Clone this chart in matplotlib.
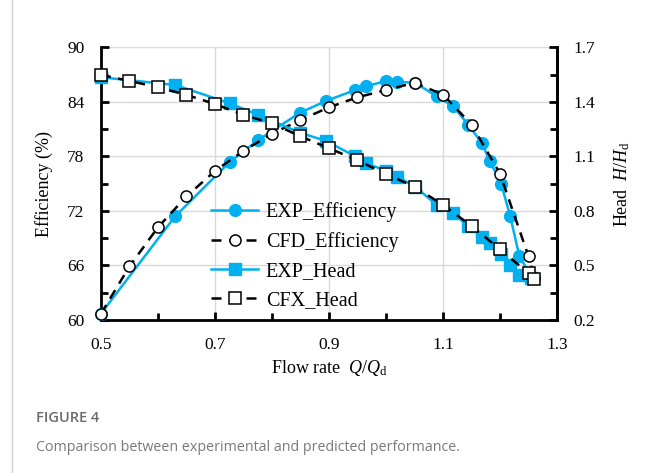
import matplotlib
matplotlib.use("Agg")
import matplotlib.pyplot as plt
from matplotlib.lines import Line2D

plt.rcParams['font.family'] = ['Liberation Serif', 'DejaVu Serif']
plt.rcParams['mathtext.fontset'] = 'custom'
plt.rcParams['mathtext.rm'] = 'Liberation Serif'
plt.rcParams['mathtext.it'] = 'Liberation Serif:italic'

# Efficiency (%) versus flow rate Q/Qd
exp_eff_q = [0.50, 0.63, 0.726, 0.776, 0.849, 0.895, 0.946, 0.965, 1.00, 1.02, 1.051,
             1.089, 1.118, 1.144, 1.168, 1.182, 1.202, 1.218, 1.234, 1.255]
exp_eff = [60.7, 71.4, 77.4, 79.8, 82.8, 84.1, 85.3, 85.7, 86.3, 86.2, 86.1,
           84.6, 83.5, 81.5, 79.5, 77.5, 75.0, 71.4, 67.0, 64.8]
cfd_eff_q = [0.50, 0.55, 0.60, 0.65, 0.70, 0.75, 0.80, 0.85, 0.90, 0.95, 1.00,
             1.05, 1.10, 1.15, 1.20, 1.25, 1.26]
cfd_eff = [60.7, 65.9, 70.2, 73.6, 76.4, 78.6, 80.5, 82.0, 83.4, 84.5, 85.3,
           86.1, 84.8, 81.5, 76.1, 67.0, 64.6]

# Head H/Hd versus flow rate Q/Qd
exp_head_q = [0.50, 0.63, 0.726, 0.776, 0.849, 0.895, 0.946, 0.965, 1.00, 1.02, 1.051,
              1.089, 1.118, 1.144, 1.168, 1.182, 1.202, 1.218, 1.234, 1.255]
exp_head = [1.535, 1.493, 1.392, 1.328, 1.230, 1.185, 1.100, 1.062, 1.021, 0.988, 0.933,
            0.833, 0.787, 0.717, 0.658, 0.622, 0.563, 0.503, 0.448, 0.430]
cfx_head_q = [0.50, 0.55, 0.60, 0.65, 0.70, 0.75, 0.80, 0.85, 0.90, 0.95, 1.00,
              1.05, 1.10, 1.15, 1.20, 1.25, 1.26]
cfx_head = [1.548, 1.515, 1.480, 1.438, 1.388, 1.328, 1.282, 1.210, 1.145, 1.078, 1.003,
            0.933, 0.833, 0.717, 0.589, 0.457, 0.424]

x_ticks = [0.5, 0.7, 0.9, 1.1, 1.3]
eff_ticks = [60, 66, 72, 78, 84, 90]
head_ticks = [0.2, 0.5, 0.8, 1.1, 1.4, 1.7]

cyan = '#00B0F0'

fig = plt.figure(figsize=(6.52, 4.73), dpi=100)
ax = fig.add_axes([0.1549, 0.3235, 0.6994, 0.5765])
ax2 = ax.twinx()

ax.set_xlim(0.5, 1.3)
ax.set_ylim(60, 90)
ax2.set_ylim(0.2, 1.7)

ax.set_xticks(x_ticks)
ax.set_xticks([0.6, 0.8, 1.0, 1.2], minor=True)
ax.set_xticklabels([f'{v:.1f}' for v in x_ticks])
ax.set_yticks(eff_ticks)
ax.set_yticks([63, 69, 75, 81, 87], minor=True)
ax2.set_yticks(head_ticks)
ax2.set_yticks([0.35, 0.65, 0.95, 1.25, 1.55], minor=True)
ax2.set_yticklabels([f'{v:.1f}' for v in head_ticks])

ax.grid(True, which='major', color='#d9d9d9', linewidth=1.0)
ax.set_axisbelow(True)

for a in (ax, ax2):
    a.spines['top'].set_visible(False)
    for s in a.spines.values():
        s.set_linewidth(2.0)
ax2.spines['left'].set_visible(False)
ax2.spines['bottom'].set_visible(False)

ax.tick_params(axis='both', which='both', direction='in', width=2, labelsize=12.5)
ax.tick_params(axis='both', which='major', length=6)
ax.tick_params(axis='both', which='minor', length=5)
ax.tick_params(axis='y', pad=12)
ax.tick_params(axis='x', pad=12)
ax2.tick_params(axis='y', which='both', direction='in', width=2, labelsize=12.5, pad=12)
ax2.tick_params(axis='y', which='major', length=6)
ax2.tick_params(axis='y', which='minor', length=5)

lw = 1.8
ax.plot(exp_eff_q, exp_eff, '-', color=cyan, lw=lw, marker='o', ms=8.5,
        mfc=cyan, mec=cyan, zorder=3, clip_on=False)
ax.plot(cfd_eff_q, cfd_eff, '--', color='black', lw=lw, dashes=(4, 3), marker='o', ms=8,
        mfc='white', mec='black', mew=1.1, zorder=4, clip_on=False)
ax2.plot(exp_head_q, exp_head, '-', color=cyan, lw=lw, marker='s', ms=8,
         mfc=cyan, mec=cyan, zorder=3, clip_on=False)
ax2.plot(cfx_head_q, cfx_head, '--', color='black', lw=lw, dashes=(4, 3), marker='s', ms=8,
         mfc='white', mec='black', mew=1.1, zorder=4, clip_on=False)

handles = [
    Line2D([], [], color=cyan, lw=lw, marker='o', ms=8.5, mfc=cyan, mec=cyan),
    Line2D([], [], color='black', lw=lw, ls='--', dashes=(4, 3), marker='o', ms=8,
           mfc='white', mec='black', mew=1.1),
    Line2D([], [], color=cyan, lw=lw, marker='s', ms=8, mfc=cyan, mec=cyan),
    Line2D([], [], color='black', lw=lw, ls='--', dashes=(4, 3), marker='s', ms=8,
           mfc='white', mec='black', mew=1.1),
]
labels = ['EXP_Efficiency', 'CFD_Efficiency', 'EXP_Head', 'CFX_Head']
leg = ax2.legend(handles, labels, loc='upper left', bbox_to_anchor=(0.22, 0.47),
                 frameon=False, fontsize=14.5, handlelength=2.3, handletextpad=0.4,
                 labelspacing=0.5, borderpad=0)
leg.set_zorder(10)

ax.set_xlabel(r'Flow rate  $\mathit{Q}/\mathit{Q}_{\mathrm{d}}$', fontsize=13, labelpad=4)
ax.set_ylabel('Efficiency (%)', fontsize=13, labelpad=10)
ax2.set_ylabel(r'Head  $\mathit{H}/\mathit{H}_{\mathrm{d}}$', fontsize=13, labelpad=12)

# caption block beneath the chart
fig.text(36 / 652, 1 - 418 / 473, 'FIGURE 4', family=['Open Sans', 'DejaVu Sans'],
         fontsize=10.5, color='#6b6b6b', va='center', ha='left', fontweight='semibold')
fig.text(36 / 652, 1 - 447 / 473,
         'Comparison between experimental and predicted performance.',
         family=['Open Sans', 'DejaVu Sans'], fontsize=10.3, color='#7a7a7a',
         va='center', ha='left')
fig.add_artist(Line2D([12 / 652, 12 / 652], [0, 1], color='#d0d0d0', lw=1.0,
                      transform=fig.transFigure))

fig.savefig('out.png', dpi=100)
